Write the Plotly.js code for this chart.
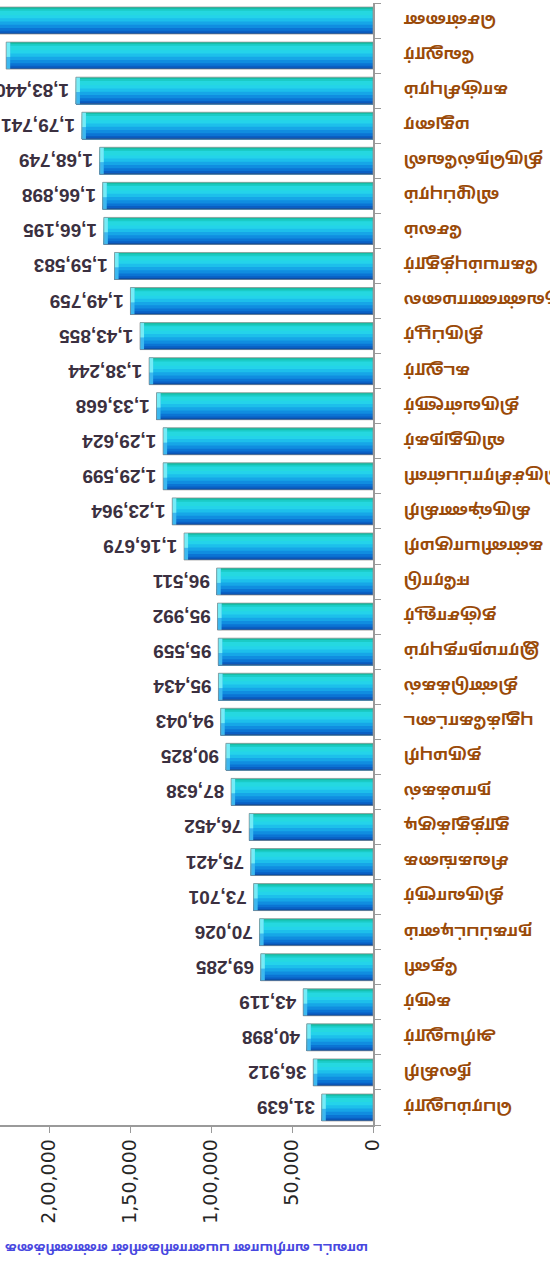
<!DOCTYPE html>
<html>
<head>
<meta charset="utf-8">
<script src="https://cdn.plot.ly/plotly-3.0.1.min.js"></script>
<style>
html,body{margin:0;padding:0;background:#fff;overflow:hidden;}
#wrap{width:550px;height:1271px;transform:rotate(180deg);transform-origin:50% 50%;}
#chart{width:550px;height:1271px;}
</style>
</head>
<body>
<div id="wrap"><div id="chart"></div></div>
<script>
// ---- data ----
const districts = [
  "சென்னை","வேலூர்","காஞ்சிபுரம்","மதுரை","திருநெல்வேலி","விழுப்புரம்","சேலம்","கோயம்புத்தூர்",
  "திருவண்ணாமலை","திருப்பூர்","கடலூர்","திருவள்ளூர்","விருதுநகர்","திருச்சிராப்பள்ளி","கிருஷ்ணகிரி","கன்னியாகுமரி",
  "ஈரோடு","தஞ்சாவூர்","இராமநாதபுரம்","திண்டுக்கல்","புதுக்கோட்டை","தருமபுரி","நாமக்கல்","தூத்துக்குடி",
  "சிவகங்கை","திருவாரூர்","நாகப்பட்டினம்","தேனி","கரூர்","அரியலூர்","நீலகிரி","பெரம்பலூர்"
];
const values = [
  245000, 226500, 183440, 179741, 168749, 166898, 166195, 159583,
  149759, 143855, 138244, 133668, 129624, 129599, 123964, 116679,
  96511, 95992, 95559, 95434, 94043, 90825, 87638, 76452,
  75421, 73701, 70026, 69285, 43119, 40898, 36912, 31639
];
const tickValues = [0, 50000, 100000, 150000, 200000];
const tickLabels = ["0", "50,000", "1,00,000", "1,50,000", "2,00,000"];
const axisTitle = "மாவட்ட வாரியான பயனாளிகளின் எண்ணிக்கை";

// ---- helpers ----
function indian(n){
  const s = String(Math.round(n));
  if (s.length <= 3) return s;
  let last3 = s.slice(-3), rest = s.slice(0, -3);
  rest = rest.replace(/\B(?=(\d{2})+(?!\d))/g, ",");
  return rest + "," + last3;
}

// ---- styling ----
const W = 0.77;           // bar thickness in category units
const CAP = 2500;         // bevel length at bar tip (value units)
const bands = [           // [start, colour]; each band runs from start to the display-bottom edge
  [0.00,"#14bea6"],[0.07,"#1bcbc6"],[0.14,"#25d8e0"],[0.30,"#24d3ea"],
  [0.42,"#1dbfeb"],[0.54,"#16a6e7"],[0.66,"#108de0"],[0.78,"#0b74d4"],
  [0.88,"#0a5fc4"],[0.95,"#0a4ca3"]
];

const traces = [];
bands.forEach(b => {
  traces.push({
    type:"bar", orientation:"h", y:districts, x:values,
    width:(1-b[0])*W, offset:-W/2 + b[0]*W,
    marker:{color:b[1], line:{width:0}}, hoverinfo:"skip"
  });
});
// tip bevel
traces.push({
  type:"bar", orientation:"h", y:districts, x:values.map(()=>CAP), base:values.map(v=>v-CAP),
  width:W, offset:-W/2, marker:{color:"#3cb8ef", line:{width:0}}, hoverinfo:"skip"
});
traces.push({
  type:"bar", orientation:"h", y:districts, x:values.map(()=>CAP), base:values.map(v=>v-CAP),
  width:0.55*W, offset:-W/2, marker:{color:"#74ecf7", line:{width:0}}, hoverinfo:"skip"
});
// outline + value labels
traces.push({
  type:"bar", orientation:"h", y:districts, x:values,
  width:W, offset:-W/2,
  marker:{color:"rgba(0,0,0,0)", line:{color:"rgba(140,140,140,0.7)", width:1}},
  text:values.map(v => "\u2009" + indian(v)), textposition:"outside", constraintext:"none", cliponaxis:true,
  textfont:{family:"Liberation Sans, Arial, sans-serif", size:19, color:"#3b3040", weight:"bold"},
  hoverinfo:"skip"
});

const tamilFont = "'Noto Sans Tamil', 'Noto Sans', 'Lohit Tamil', sans-serif";

const layout = {
  width:550, height:1271,
  margin:{l:177, r:0, t:146, b:3, pad:0},
  barmode:"overlay", showlegend:false,
  paper_bgcolor:"#ffffff", plot_bgcolor:"#ffffff",
  xaxis:{
    side:"top", range:[0, 230300], tickmode:"array", tickvals:tickValues, ticktext:tickLabels,
    tickangle:90, ticks:"outside", ticklen:6, tickcolor:"#9a9a9a", tickwidth:1,
    showline:true, linecolor:"#9a9a9a", linewidth:1.5, showgrid:false, zeroline:false,
    tickfont:{family:"DejaVu Sans, Verdana, sans-serif", size:19, color:"#262626"},
    title:{text:axisTitle, standoff:16, font:{family:tamilFont, size:13, color:"#4848e0", weight:"bold"}}
  },
  yaxis:{
    type:"category", categoryorder:"array", categoryarray:districts, range:[-0.5, districts.length-0.5],
    ticks:"outside", tickson:"boundaries", ticklen:6, tickcolor:"#9a9a9a",
    showline:true, linecolor:"#9a9a9a", linewidth:1.5, showgrid:false, zeroline:false,
    ticklabelstandoff:26,
    tickfont:{family:tamilFont, size:16, color:"#9a4a08", weight:"bold"}
  }
};

Plotly.newPlot("chart", traces, layout, {staticPlot:true, displayModeBar:false});
</script>
</body>
</html>
